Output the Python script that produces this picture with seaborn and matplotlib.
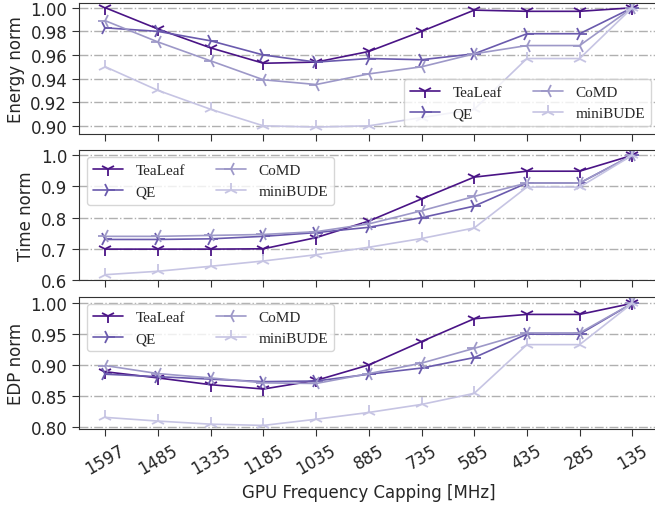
import numpy as np
import pandas as pd
import matplotlib
matplotlib.use("Agg")
import matplotlib.pyplot as plt
import seaborn as sns

# GPU frequency caps (x categories)
freqs = ["1597", "1485", "1335", "1185", "1035", "885", "735", "585", "435", "285", "135"]
apps = ["TeaLeaf", "QE", "CoMD", "miniBUDE"]

# Energy norm
energy_tealeaf = [1.000, 0.982, 0.966, 0.953, 0.954, 0.963, 0.980, 0.998, 0.997, 0.997, 1.000]
energy_qe = [0.983, 0.980, 0.972, 0.960, 0.954, 0.957, 0.956, 0.961, 0.978, 0.978, 1.000]
energy_comd = [0.989, 0.971, 0.955, 0.939, 0.935, 0.944, 0.950, 0.961, 0.968, 0.968, 1.000]
energy_minibude = [0.950, 0.930, 0.914, 0.900, 0.899, 0.900, 0.907, 0.914, 0.957, 0.957, 1.000]

# Time norm
time_tealeaf = [0.699, 0.699, 0.699, 0.700, 0.736, 0.789, 0.860, 0.930, 0.949, 0.949, 1.000]
time_qe = [0.730, 0.730, 0.732, 0.740, 0.752, 0.769, 0.800, 0.837, 0.911, 0.911, 1.000]
time_comd = [0.740, 0.740, 0.743, 0.746, 0.755, 0.780, 0.822, 0.868, 0.911, 0.911, 1.000]
time_minibude = [0.617, 0.628, 0.644, 0.661, 0.681, 0.705, 0.733, 0.767, 0.898, 0.898, 1.000]

# EDP norm
edp_tealeaf = [0.889, 0.879, 0.868, 0.861, 0.875, 0.900, 0.938, 0.975, 0.982, 0.982, 1.000]
edp_qe = [0.885, 0.881, 0.877, 0.873, 0.874, 0.885, 0.895, 0.912, 0.950, 0.950, 1.000]
edp_comd = [0.899, 0.886, 0.879, 0.871, 0.870, 0.886, 0.903, 0.927, 0.952, 0.952, 1.000]
edp_minibude = [0.815, 0.809, 0.804, 0.802, 0.812, 0.823, 0.836, 0.854, 0.933, 0.933, 1.000]

colors = {"TeaLeaf": "#4a1486", "QE": "#6a5aad", "CoMD": "#9d98c8", "miniBUDE": "#c6c4e3"}
markers = {"TeaLeaf": "1", "QE": "4", "CoMD": "3", "miniBUDE": "2"}


def make_df(series):
    rows = []
    for app, vals in zip(apps, series):
        for i, v in enumerate(vals):
            rows.append({"pos": i, "app": app, "value": v})
    return pd.DataFrame(rows)


panels = [
    ("Energy norm", [energy_tealeaf, energy_qe, energy_comd, energy_minibude],
     [0.90, 0.92, 0.94, 0.96, 0.98, 1.00], "%.2f", (0.893, 1.004), "lower right",
     [0.1206, 0.733, 0.885, 0.259]),
    ("Time norm", [time_tealeaf, time_qe, time_comd, time_minibude],
     [0.6, 0.7, 0.8, 0.9, 1.0], "%.1f", (0.6, 1.018), "upper left",
     [0.1206, 0.4447, 0.885, 0.2575]),
    ("EDP norm", [edp_tealeaf, edp_qe, edp_comd, edp_minibude],
     [0.80, 0.85, 0.90, 0.95, 1.00], "%.2f", (0.796, 1.011), "upper left",
     [0.1206, 0.150, 0.885, 0.262]),
]

sns.set_style("ticks")
plt.rcParams["font.family"] = ["DejaVu Sans"]

fig = plt.figure(figsize=(6.55, 5.06), dpi=100)

for k, (ylabel, series, yticks, fmt, ylim, loc, rect) in enumerate(panels):
    ax = fig.add_axes(rect)
    df = make_df(series)
    for app in apps:
        sub = df[df["app"] == app]
        sns.lineplot(data=sub, x="pos", y="value", ax=ax, color=colors[app],
                     marker=markers[app], markersize=10, markeredgewidth=1.3,
                     markeredgecolor=colors[app], linewidth=1.2, label=app)
    ax.set_xlim(-0.5, 10.5)
    ax.set_ylim(*ylim)
    ax.set_yticks(yticks)
    ax.set_yticklabels([fmt % t for t in yticks], fontsize=12)
    ax.set_xticks(range(len(freqs)))
    if k == 2:
        ax.set_xticklabels(freqs, rotation=30, fontsize=12)
        ax.set_xlabel("GPU Frequency Capping [MHz]", fontsize=12)
    else:
        ax.set_xticklabels([])
        ax.set_xlabel("")
    ax.set_ylabel(ylabel, fontsize=12)
    ax.yaxis.grid(True, linestyle="-.", color="#b0b0b0", linewidth=1.0)
    ax.set_axisbelow(True)
    for s in ax.spines.values():
        s.set_color("#333333")
    ax.tick_params(axis="both", length=5, color="#333333")
    ax.legend(loc=loc, ncol=2, prop={"family": "Liberation Serif", "size": 11},
              columnspacing=2.0)

fig.savefig("out.png", dpi=100)
